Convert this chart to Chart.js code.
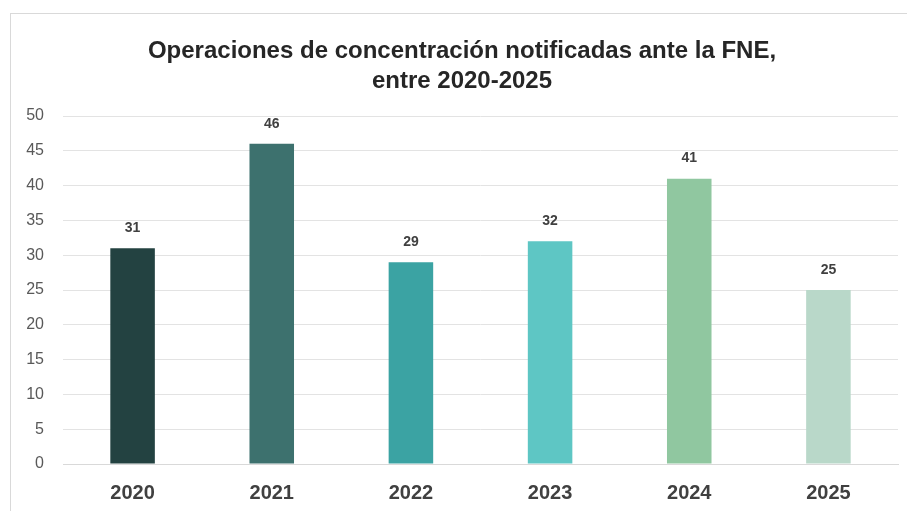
<!DOCTYPE html>
<html>
<head>
<meta charset="utf-8">
<script src="https://cdn.jsdelivr.net/npm/chart.js@4.4.1/dist/chart.umd.min.js"></script>
<style>
  html, body { margin: 0; padding: 0; background: #fff; }
  #wrap { position: relative; width: 907px; height: 511px; overflow: hidden; }
  #frame { position: absolute; left: 10px; top: 13px; width: 1000px; height: 600px; border: 1px solid #d9d9d9; }
  canvas { position: absolute; left: 0; top: 0; }
</style>
</head>
<body>
<div id="wrap">
  <div id="frame"></div>
  <canvas id="chart" width="907" height="511"></canvas>
</div>
<script>
const years = ['2020', '2021', '2022', '2023', '2024', '2025'];
const operations = [31, 46, 29, 32, 41, 25];
const barColors = ['#234241', '#3d716e', '#3ba3a3', '#5ec6c4', '#90c7a0', '#b9d8c9'];
const titleLines = ['Operaciones de concentración notificadas ante la FNE,', 'entre 2020-2025'];

// draws the value above each bar
const valueLabels = {
  id: 'valueLabels',
  afterDatasetsDraw(chart) {
    const ctx = chart.ctx;
    const meta = chart.getDatasetMeta(0);
    ctx.save();
    ctx.font = 'bold 14px "Liberation Sans", Arial, sans-serif';
    ctx.fillStyle = '#404040';
    ctx.textAlign = 'center';
    ctx.textBaseline = 'middle';
    meta.data.forEach((bar, i) => {
      ctx.fillText(operations[i], bar.x, bar.y - 20);
    });
    ctx.restore();
  }
};

new Chart(document.getElementById('chart'), {
  type: 'bar',
  data: {
    labels: years,
    datasets: [{
      data: operations,
      backgroundColor: barColors,
      categoryPercentage: 1,
      barPercentage: 0.32,
    }],
  },
  options: {
    responsive: false,
    animation: false,
    layout: { padding: { left: 26, right: 9, top: 0, bottom: -3 } },
    plugins: {
      legend: { display: false },
      tooltip: { enabled: false },
      title: {
        display: true,
        text: titleLines,
        color: '#262626',
        font: { family: '"Liberation Sans", Arial, sans-serif', size: 24, weight: 'bold', lineHeight: 1.25 },
        padding: { top: 36, bottom: 20 },
      },
    },
    scales: {
      x: {
        grid: { display: false },
        border: { color: '#d9d9d9' },
        ticks: {
          color: '#404040',
          padding: 9,
          font: { family: '"Liberation Sans", Arial, sans-serif', size: 20, weight: 'bold' },
        },
      },
      y: {
        min: 0,
        max: 50,
        afterFit(scale) { scale.width = 37; },
        border: { display: false },
        grid: { color: '#e3e3e3', drawTicks: false },
        ticks: {
          stepSize: 5,
          color: '#595959',
          padding: 19,
          font: { family: '"Liberation Sans", Arial, sans-serif', size: 16 },
        },
      },
    },
  },
  plugins: [valueLabels],
});
</script>
</body>
</html>
